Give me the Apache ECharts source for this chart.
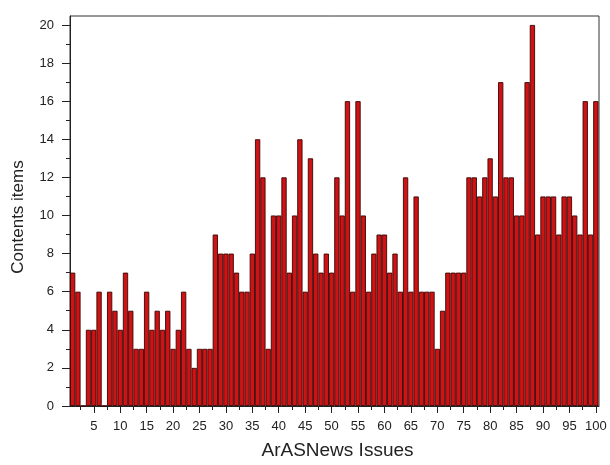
<!DOCTYPE html>
<html>
<head>
<meta charset="utf-8">
<script src="https://cdn.jsdelivr.net/npm/echarts@6/dist/echarts.min.js"></script>
<style>
html,body{margin:0;padding:0;background:#fff;}
#main{width:610px;height:465px;}
</style>
</head>
<body>
<div id="main"></div>
<script>
// Issue numbers (x) and number of content items (y)
var issues = [];
for (var i = 1; i <= 100; i++) issues.push(i);
var contentItems = [
  7,6,0,4,4,6,0,6,5,4, 7,5,3,3,6,4,5,4,5,3,
  4,6,3,2,3,3,3,9,8,8, 8,7,6,6,8,14,12,3,10,10,
  12,7,10,14,6,13,8,7,8,7, 12,10,16,6,16,10,6,8,9,9,
  7,8,6,12,6,11,6,6,6,3, 5,7,7,7,7,12,12,11,12,13,
  11,17,12,12,10,10,17,20,9,11, 11,11,9,11,11,10,9,16,9,16
];
var xLabelValues = [5,10,15,20,25,30,35,40,45,50,55,60,65,70,75,80,85,90,95,100];
var xMinorValues = [2.5,7.5,12.5,17.5,22.5,27.5,32.5,37.5,42.5,47.5,52.5,57.5,62.5,67.5,72.5,77.5,82.5,87.5,92.5,97.5];
var yLabelValues = [0,2,4,6,8,10,12,14,16,18,20];
var yMinorValues = [1,3,5,7,9,11,13,15,17,19];

var X_MIN = 0.5, X_MAX = 100.6, Y_MIN = 0, Y_MAX = 20.47;
var gridLeft = 70, gridRight = 11, gridTop = 16, gridBottom = 58;
var barW = (610 - gridLeft - gridRight) / (X_MAX - X_MIN);

var data = issues.map(function (x, k) { return [x, contentItems[k]]; });
var font = 'Liberation Sans, Arial, sans-serif';

var chart = echarts.init(document.getElementById('main'), null, {renderer: 'canvas'});
chart.setOption({
  animation: false,
  backgroundColor: '#ffffff',
  grid: {left: gridLeft, right: gridRight, top: gridTop, bottom: gridBottom,
         show: true, borderColor: '#333', borderWidth: 1, backgroundColor: 'transparent'},
  xAxis: [{
    type: 'value', min: X_MIN, max: X_MAX, position: 'bottom',
    name: 'ArASNews Issues', nameLocation: 'middle', nameGap: 35,
    nameTextStyle: {fontFamily: font, fontSize: 19, color: '#222', padding: [0, 0, 0, 6]},
    axisLine: {show: true, lineStyle: {color: '#222', width: 1}},
    axisTick: {show: true, inside: false, length: 7, customValues: xLabelValues,
               lineStyle: {color: '#222', width: 1}},
    axisLabel: {show: true, customValues: xLabelValues, fontFamily: font, fontSize: 13,
                color: '#222', margin: 14},
    splitLine: {show: false}
  }, {
    type: 'value', min: X_MIN, max: X_MAX, position: 'bottom',
    axisLine: {show: false},
    axisTick: {show: true, length: 4, customValues: xMinorValues,
               lineStyle: {color: '#222', width: 1}},
    axisLabel: {show: false},
    splitLine: {show: false}
  }],
  yAxis: [{
    type: 'value', min: Y_MIN, max: Y_MAX, position: 'left',
    name: 'Contents items', nameLocation: 'middle', nameGap: 43, nameRotate: 90,
    nameTextStyle: {fontFamily: font, fontSize: 17, color: '#222', padding: [0, 12, 0, 0]},
    axisLine: {show: true, lineStyle: {color: '#222', width: 1}},
    axisTick: {show: true, length: 8, customValues: yLabelValues,
               lineStyle: {color: '#222', width: 1}},
    axisLabel: {show: true, customValues: yLabelValues, fontFamily: font, fontSize: 13,
                color: '#222', margin: 16},
    splitLine: {show: false}
  }, {
    type: 'value', min: Y_MIN, max: Y_MAX, position: 'left',
    axisLine: {show: false},
    axisTick: {show: true, length: 4, customValues: yMinorValues,
               lineStyle: {color: '#222', width: 1}},
    axisLabel: {show: false},
    splitLine: {show: false}
  }],
  series: [{
    type: 'bar',
    xAxisIndex: 0, yAxisIndex: 0,
    data: data,
    barWidth: barW,
    itemStyle: {color: '#cf1214', borderColor: '#3a0606', borderWidth: 0.9},
    emphasis: {disabled: true}
  }]
});
</script>
</body>
</html>
